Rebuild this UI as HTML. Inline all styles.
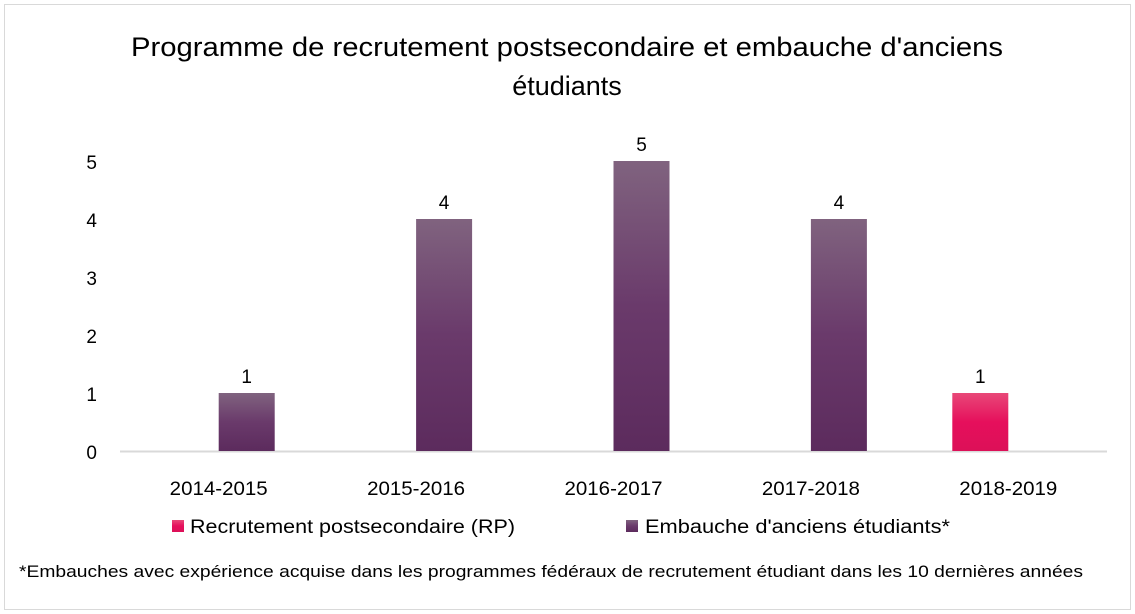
<!DOCTYPE html>
<html><head><meta charset="utf-8"><style>
html,body{margin:0;padding:0;background:#fff;}
body{width:1135px;height:614px;overflow:hidden;font-family:"Liberation Sans",sans-serif;}
</style></head><body>
<svg width="1135" height="614" style="position:absolute;left:0;top:0">
<defs>
<linearGradient id="gp" x1="0" y1="0" x2="0" y2="1"><stop offset="0" stop-color="#80637f"/><stop offset="0.5" stop-color="#6a3a6b"/><stop offset="1" stop-color="#5c2b5d"/></linearGradient>
<linearGradient id="gr" x1="0" y1="0" x2="0" y2="1"><stop offset="0" stop-color="#e84878"/><stop offset="0.5" stop-color="#e60f5c"/><stop offset="1" stop-color="#dc1058"/></linearGradient>
</defs>
<rect x="4.5" y="4.5" width="1126" height="605" fill="#fff" stroke="#d9d9d9"/>
<text x="131" y="56" textLength="872" lengthAdjust="spacingAndGlyphs" font-size="27" fill="#000">Programme de recrutement postsecondaire et embauche d'anciens</text>
<text x="567" y="95" text-anchor="middle" font-size="27" fill="#000">étudiants</text>
<g id="plot"></g>
<g>
<rect x="172" y="520" width="12" height="12" fill="url(#gr)"/>
<text x="190" y="533" textLength="325" lengthAdjust="spacingAndGlyphs" font-size="19" fill="#000">Recrutement postsecondaire (RP)</text>
<rect x="626" y="520" width="12" height="12" fill="url(#gp)"/>
<text x="645" y="533" textLength="305" lengthAdjust="spacingAndGlyphs" font-size="19" fill="#000">Embauche d'anciens étudiants*</text>
</g>
<text x="19" y="577" textLength="1064" lengthAdjust="spacingAndGlyphs" font-size="16.5" fill="#000">*Embauches avec expérience acquise dans les programmes fédéraux de recrutement étudiant dans les 10 dernières années</text>
</svg>
<script>
const categories=["2014-2015","2015-2016","2016-2017","2017-2018","2018-2019"];
const rpValues=[0,0,0,0,1];
const embaucheValues=[1,4,5,4,0];
const yTicks=[0,1,2,3,4,5];
const NS="http://www.w3.org/2000/svg";
const plot=document.getElementById('plot');
const x0=120,x1=1107,y0=451,unit=58,bw=56;
const band=(x1-x0)/categories.length;
const xc=i=>x0+band*(i+0.5);
const y=v=>y0-v*unit;
function mk(tag,attrs,txt){const e=document.createElementNS(NS,tag);for(const k in attrs)e.setAttribute(k,attrs[k]);if(txt!==undefined)e.textContent=txt;plot.appendChild(e);return e;}
yTicks.forEach(t=>{const e=mk('text',{x:97,y:y(t)+8,'text-anchor':'end','font-size':19,fill:'#000'},t);

});
const ax=mk('line',{x1:x0,x2:x1,y1:y0+0.5,y2:y0+0.5,stroke:'#d9d9d9','stroke-width':2});


categories.forEach((c,i)=>{
 const t=mk('text',{x:xc(i),y:495,'text-anchor':'middle','font-size':19,fill:'#000',textLength:98,lengthAdjust:'spacingAndGlyphs'},c);
 
 
 [[rpValues[i],xc(i)-bw,'url(#gr)','bar-rp'],[embaucheValues[i],xc(i),'url(#gp)','bar-embauche']].forEach(([v,bx,fill,name])=>{
  if(!v)return;
  const r=mk('rect',{x:bx,y:y(v),width:bw,height:v*unit,fill:fill});
  
  
  const l=mk('text',{x:bx+bw/2,y:y(v)-10,'text-anchor':'middle','font-size':19,fill:'#000'},v);
  
  
 });
});
</script>
</body></html>
